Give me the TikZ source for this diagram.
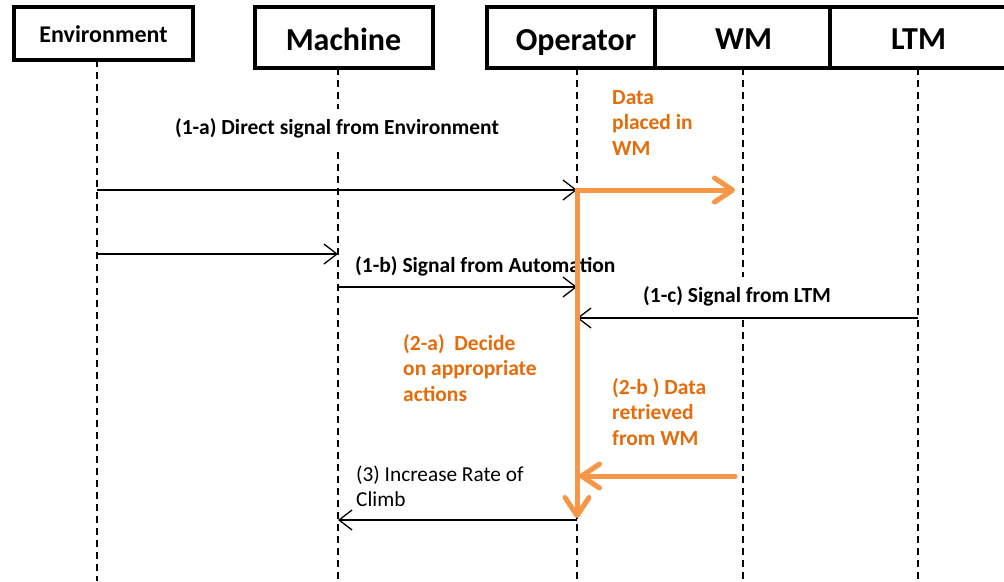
\documentclass[tikz,border=0pt]{standalone}
\usepackage{fontspec}
\setmainfont{Carlito}
\usetikzlibrary{arrows.meta}
\definecolor{lineorange}{HTML}{F79646}
\definecolor{textorange}{HTML}{E46C0A}
\begin{document}
\begin{tikzpicture}[x=1pt,y=-1pt,
  actor/.style={draw, line width=3.5pt, inner sep=0pt},
  title/.style={anchor=base, inner sep=0pt, font=\bfseries\fontsize{32}{38}\selectfont},
  lifeline/.style={dash pattern=on 7pt off 5pt, line width=1.3pt},
  msg/.style={line width=1.3pt, -{Straight Barb[length=13pt,width=20pt]}},
  flow/.style={draw=lineorange, line width=5pt, line cap=round, line join=round,
    -{Straight Barb[length=18pt,width=24pt,round]},
    preaction={draw=black!45, opacity=0.25, transform canvas={shift={(1.5,2.5)}}}},
  lbl/.style={font=\bfseries\fontsize{21.5}{25.5}\selectfont, inner sep=0pt, align=left},
  olbl/.style={lbl, text=textorange},
  boxed/.style={fill=white, inner xsep=2pt, inner ysep=9pt},
]
\clip (0,0) rectangle (1004,581);
\fill[white] (0,0) rectangle (1004,581);

% participant boxes
\node[actor, minimum width=179pt, minimum height=53pt] (env) at (103.5,33.5) {};
\node[actor, minimum width=178pt, minimum height=61pt] (mach) at (344,37.5) {};
\node[actor, minimum width=168pt, minimum height=61pt] (op) at (571,37.5) {};
\node[actor, minimum width=175pt, minimum height=61pt] (wm) at (742.5,37.5) {};
\node[actor, minimum width=180pt, minimum height=61pt] (ltm) at (920,37.5) {};

% participant names
\node[title, font=\bfseries\fontsize{24}{28}\selectfont] (envname) at (103.5,42) {Environment};
\node[title] (machname) at (343.5,50) {Machine};
\node[title] (opname) at (576,50) {Operator};
\node[title] (wmname) at (743.5,49) {WM};
\node[title] (ltmname) at (918.5,49) {LTM};

% lifelines
\coordinate (envT) at (97,60);   \coordinate (envB) at (97,581);
\coordinate (machT) at (338,68); \coordinate (machB) at (338,581);
\coordinate (opT) at (577,68);   \coordinate (opB) at (577,581);
\coordinate (wmT) at (743,68);   \coordinate (wmB) at (743,581);
\coordinate (ltmT) at (918,68);  \coordinate (ltmB) at (918,581);
\foreach \p in {env,mach,op,wm,ltm}
  \draw[lifeline] (\p T) -- (\p B);

% message end points
\coordinate (e1) at (97,190);  \coordinate (o1) at (577,190);
\coordinate (e2) at (97,254);  \coordinate (m2) at (338,254);
\coordinate (m3) at (338,287); \coordinate (o3) at (577,287);
\coordinate (l4) at (918,318); \coordinate (o4) at (577,318);
\coordinate (w5) at (735,190);
\coordinate (o6) at (577,518);
\coordinate (w7) at (735,476); \coordinate (o7) at (579,476);
\coordinate (o8) at (577,520); \coordinate (m8) at (338,520);

% signals
\draw[msg] (e1) -- (o1);
\draw[msg] (e2) -- (m2);
\draw[msg] (m3) -- (o3);
\draw[msg] (l4) -- (o4);
\draw[msg] (o8) -- (m8);

% labels
\node[lbl, boxed] (la) at (337,128) {(1-a) Direct signal from Environment};
\node[lbl, anchor=north west] (lb) at (355,256) {(1-b) Signal from Automation};
\node[lbl, boxed, anchor=north west] (lc) at (641,277) {(1-c) Signal from LTM};
\node[olbl, anchor=north west] (ld) at (612,90) {Data\\placed in\\WM};
\node[olbl, anchor=north west] (l2a) at (403,334) {(2-a)\ \ Decide\\on appropriate\\actions};
\node[olbl, anchor=north west] (l2b) at (612,378) {(2-b ) Data\\retrieved\\from WM};
\node[lbl, font=\fontsize{21.3}{25}\selectfont, anchor=north west] (l3) at (356,466)
  {(3) Increase Rate of\\Climb};

% operator's working-memory activity
\draw[flow] (o1) -- (w5);
\draw[flow] (o1) -- (o6);
\draw[flow] (w7) -- (o7);
\end{tikzpicture}
\end{document}
